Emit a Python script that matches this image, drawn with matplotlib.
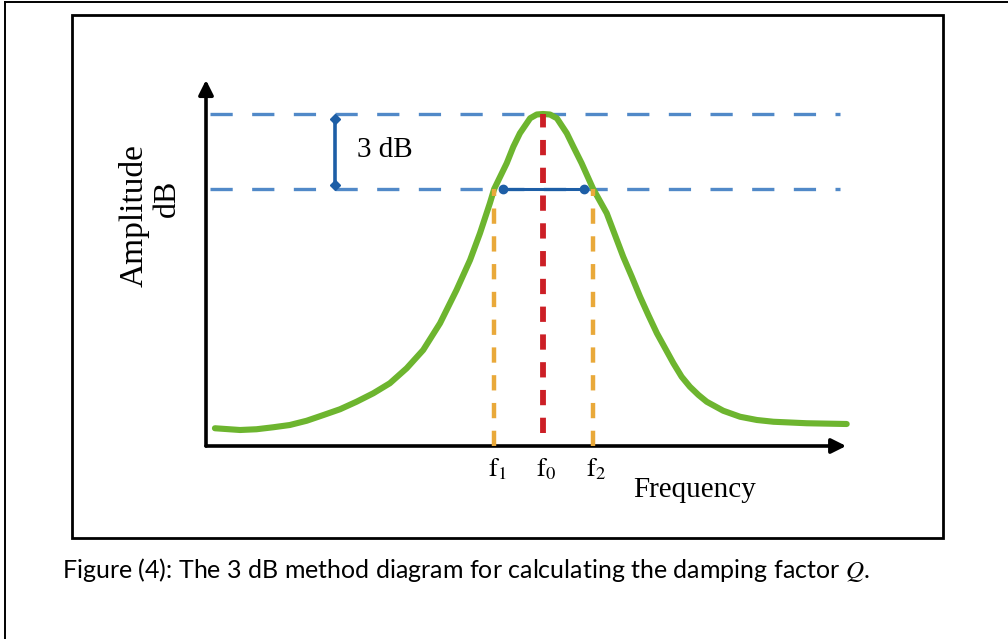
import matplotlib
matplotlib.use("Agg")
import matplotlib.pyplot as plt
from matplotlib.lines import Line2D
from matplotlib.patches import Rectangle

# resonance curve (frequency in arbitrary units, amplitude in dB re. peak)
freq = [0.6, 8.2, 13.2, 18.3, 23.3, 28.4, 33.5, 38.5, 43.5, 48.6, 53.6, 58.7, 63.7, 68.8,
        73.8, 77.9, 80.9, 83.9, 85.2, 89.0, 91.0, 93.0, 96.1, 98.1, 100.0, 102.1, 104.2,
        107.2, 109.2, 111.7, 115.2, 119.3, 121.8, 124.3, 126.9, 129.4, 131.9, 134.5, 137.0,
        139.5, 142.0, 144.5, 147.1, 149.6, 154.6, 159.7, 164.8, 169.8, 179.9, 192.0]
amp_db = [-12.57, -12.64, -12.61, -12.53, -12.44, -12.27, -12.04, -11.81, -11.51, -11.17,
          -10.77, -10.17, -9.44, -8.37, -7.04, -5.84, -4.77, -3.57, -3.0, -1.97, -1.31,
          -0.77, -0.17, -0.02, 0.0, -0.02, -0.17, -0.77, -1.31, -1.97, -3.0, -3.97, -4.84,
          -5.71, -6.51, -7.31, -8.04, -8.77, -9.37, -9.97, -10.51, -10.91, -11.24, -11.51,
          -11.87, -12.11, -12.24, -12.31, -12.37, -12.4]

f_low, f_peak, f_high = 85.2, 100.0, 115.2
peak_db, half_db = 0.0, -3.0
freq_labels = [r"$\mathrm{f}_{1}$", r"$\mathrm{f}_{0}$", r"$\mathrm{f}_{2}$"]
caption = "Figure (4): The 3 dB method diagram for calculating the damping factor $Q$."

plt.rcParams["lines.scale_dashes"] = False
plt.rcParams["mathtext.fontset"] = "stix"

W, H = 1008, 639
fig = plt.figure(figsize=(W / 100, H / 100), dpi=100)

def fx(px):
    return px / W

def fy(py):
    return 1 - py / H

# page frame and figure box
fig.add_artist(Line2D([fx(5), fx(5)], [fy(2), 0], color="black", lw=1.4))
fig.add_artist(Line2D([fx(5), 1], [fy(2), fy(2)], color="black", lw=1.4))
fig.add_artist(Rectangle((fx(72), fy(538)), fx(943) - fx(72), fy(15) - fy(538),
                         fill=False, ec="black", lw=2.0, transform=fig.transFigure))

ax = fig.add_axes([fx(206), fy(446), fx(850) - fx(206), fy(80) - fy(446)])
ax.set_xlim(-2.1, 193.0)
ax.set_ylim(-13.28, 1.36)
ax.axis("off")

# axes with arrow heads
ax.annotate("", xy=(0.994, 0), xytext=(0, 0), xycoords="axes fraction",
            arrowprops=dict(arrowstyle="-|>", lw=2.6, color="black", mutation_scale=22,
                            shrinkA=0, shrinkB=0))
ax.annotate("", xy=(0, 1), xytext=(0, 0), xycoords="axes fraction",
            arrowprops=dict(arrowstyle="-|>", lw=2.6, color="black", mutation_scale=22,
                            shrinkA=0, shrinkB=0))

# blue dashed reference levels
for lev in (peak_db, half_db):
    ax.axhline(lev, xmin=0.006, xmax=0.985, color="#5189c8", lw=2.4, dashes=(16, 14))

# vertical markers
ax.vlines([f_low, f_high], -13.28, half_db, color="#e9a93a", lw=3.2, linestyles=(0, (11, 9)),
          zorder=3)
ax.vlines(f_peak, -12.76, peak_db, color="#cc1f26", lw=4.2, linestyles=(0, (11, 9)), zorder=4)

# resonance curve
ax.plot(freq, amp_db, color="#6db52f", lw=4.4, solid_capstyle="round",
        solid_joinstyle="round", zorder=2, clip_on=False)

# bandwidth at -3 dB
ax.plot([87.9, 112.4], [half_db, half_db], color="#1d5ea6", lw=2.2, marker="o", ms=6,
        zorder=5)

# 3 dB bracket
ax.plot([37.0, 37.0], [-0.2, -2.84], color="#1d5ea6", lw=2.6, marker="D", ms=5, zorder=5)
ax.text(43.6, -1.44, "3 dB", family="Liberation Serif", fontsize=21, va="center", ha="left")

for f, lab in zip([f_low, f_peak, f_high], freq_labels):
    ax.text(f + 1.0, -14.2, lab, fontsize=19, ha="center", va="center")

ax.text(146, -15.05, "Frequency", family="Liberation Serif", fontsize=21, ha="center",
        va="center")

fig.text(fx(134), fy(216), "Amplitude", family="Liberation Serif", fontsize=24,
         rotation=90, ha="center", va="center")
fig.text(fx(167), fy(198), "dB", family="Liberation Serif", fontsize=23,
         rotation=90, ha="center", va="center")

fig.text(fx(62), fy(570), caption, family="Lato", fontsize=18, ha="left", va="center")

fig.savefig("out.png", dpi=100)
